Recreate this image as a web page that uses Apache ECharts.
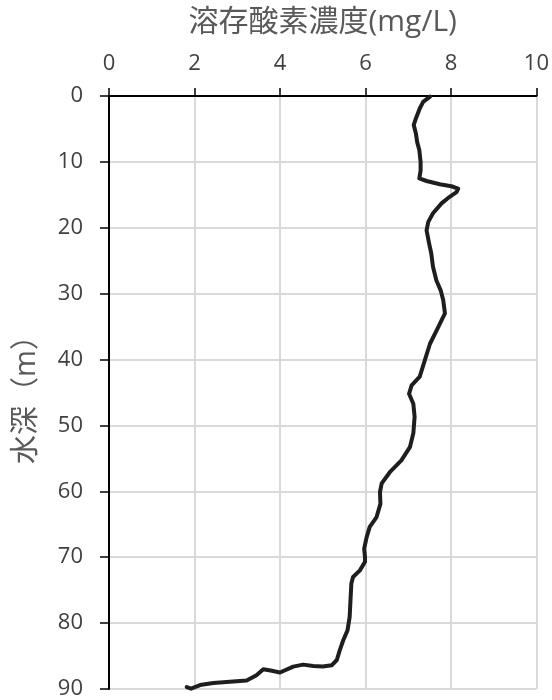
<!DOCTYPE html>
<html>
<head>
<meta charset="utf-8">
<script src="https://cdn.jsdelivr.net/npm/echarts@6/dist/echarts.min.js"></script>
<style>
html,body{margin:0;padding:0;background:#fff;}
#chart{width:552px;height:700px;}
</style>
</head>
<body>
<div id="chart"></div>
<script>
// Depth (m)
var depth = [0.1, 0.9, 1.9, 3.4, 4.4, 5.7, 7.0, 8.2, 10.0, 11.3, 12.5, 12.9, 13.4, 13.7, 14.05, 14.6, 15.3, 16.3, 17.8, 19.1,
  20.4, 22.4, 23.9, 25.9, 28.0, 29.5, 31.0, 33.0, 35.1, 37.6, 40.1, 42.6, 43.9, 45.2, 46.7, 48.7, 51.2, 53.3, 55.3, 57.1,
  58.8, 60.1, 61.9, 63.9, 65.4, 66.9, 68.7, 70.0, 70.7, 72.0, 73.0, 74.0, 76.5, 79.1, 81.1, 82.6, 84.1, 85.6, 86.4, 86.6,
  86.5, 86.3, 86.6, 87.5, 87.2, 87.0, 87.9, 88.7, 88.9, 89.1, 89.4, 89.95, 89.7];
// Dissolved oxygen (mg/L)
var oxygen = [7.51, 7.35, 7.27, 7.18, 7.13, 7.18, 7.21, 7.26, 7.29, 7.29, 7.26, 7.43, 7.74, 8.01, 8.17, 8.13, 7.97, 7.78, 7.58, 7.47,
  7.43, 7.49, 7.54, 7.58, 7.66, 7.76, 7.82, 7.86, 7.70, 7.51, 7.39, 7.27, 7.08, 7.02, 7.12, 7.15, 7.12, 7.04, 6.84, 6.57,
  6.38, 6.34, 6.35, 6.26, 6.10, 6.03, 5.97, 5.99, 5.99, 5.87, 5.71, 5.67, 5.65, 5.63, 5.58, 5.48, 5.40, 5.33, 5.21, 5.00,
  4.78, 4.54, 4.31, 4.00, 3.78, 3.61, 3.45, 3.22, 2.83, 2.44, 2.13, 1.92, 1.82];
var xAxisTitle = '溶存酸素濃度(mg/L)';
var yAxisTitle = '水深（m）';

var points = depth.map(function (d, i) { return [oxygen[i], d]; });

var font = '"Open Sans", "Noto Sans CJK JP", sans-serif';
var chart = echarts.init(document.getElementById('chart'), null, {renderer: 'canvas'});
chart.setOption({
  animation: false,
  backgroundColor: '#ffffff',
  grid: {left: 109, top: 96, right: 15, bottom: 11, containLabel: false},
  xAxis: {
    type: 'value', position: 'top', min: 0, max: 10, interval: 2,
    name: xAxisTitle, nameLocation: 'middle', nameGap: 59,
    nameTextStyle: {fontSize: 30, color: '#595959', fontFamily: font},
    axisLine: {show: true, onZero: false, lineStyle: {color: '#000', width: 2}},
    axisTick: {show: true, inside: false, length: 8, lineStyle: {color: '#000', width: 1.5}},
    axisLabel: {fontSize: 22, color: '#404040', fontFamily: font, margin: 21},
    splitLine: {show: true, lineStyle: {color: '#d9d9d9', width: 2}}
  },
  yAxis: {
    type: 'value', inverse: true, min: 0, max: 90, interval: 10,
    name: yAxisTitle, nameLocation: 'middle', nameGap: 68, nameRotate: 90,
    nameTextStyle: {fontSize: 29, color: '#595959', fontFamily: font},
    axisLine: {show: true, onZero: false, lineStyle: {color: '#000', width: 2}},
    axisTick: {show: true, inside: false, length: 9, lineStyle: {color: '#000', width: 1.5}},
    axisLabel: {fontSize: 22, color: '#404040', fontFamily: font, margin: 26},
    splitLine: {show: true, lineStyle: {color: '#d9d9d9', width: 2}}
  },
  series: [{
    type: 'line',
    data: points,
    showSymbol: false,
    symbol: 'none',
    smooth: false,
    clip: true,
    lineStyle: {color: '#1e1e1e', width: 4, join: 'round', cap: 'round'}
  }]
});
</script>
</body>
</html>
